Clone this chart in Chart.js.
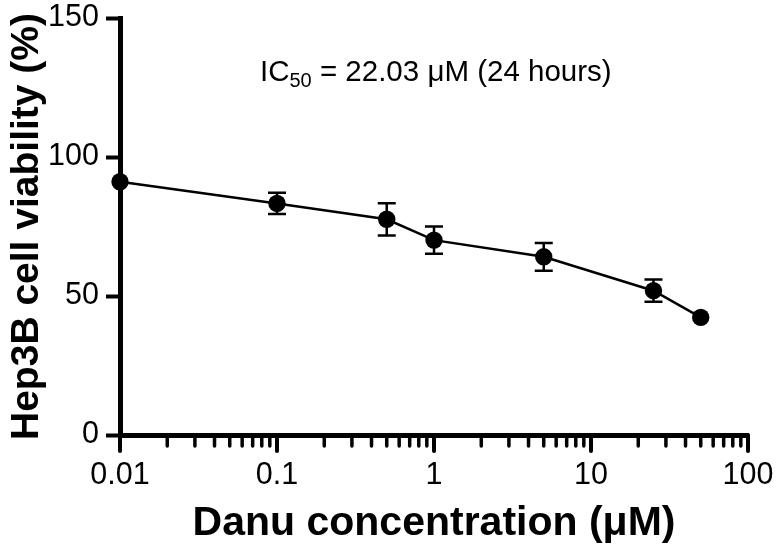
<!DOCTYPE html>
<html>
<head>
<meta charset="utf-8">
<script src="https://cdn.jsdelivr.net/npm/chart.js@4.4.1/dist/chart.umd.min.js"></script>
<style>
    html, body { margin: 0; padding: 0; background: #fff; }
    canvas { display: block; }
</style>
</head>
<body>
<canvas id="viability-chart" width="779" height="554"></canvas>
<script>
// --- DADOS ---
const concentrations = [0.01, 0.1, 0.5, 1, 5, 25, 50];      // µM
const viability = [91.1, 83.3, 77.6, 70.1, 64.1, 51.9, 42.3]; // %
const viabilityErr = [0, 3.8, 5.8, 4.9, 5.0, 4.0, 0];         // +/- %
const yTickValues = [0, 50, 100, 150];
const xMajorTicks = [0.01, 0.1, 1, 10, 100];
const annotationText = ['IC', '50', ' = 22.03 μM (24 hours)'];

const FONT = '"Liberation Sans", Arial, sans-serif';

// minor ticks 2..9 of each decade
const xTickValues = [];
xMajorTicks.forEach((d, i) => {
    xTickValues.push(d);
    if (i < xMajorTicks.length - 1) {
        for (let k = 2; k <= 9; k++) xTickValues.push(d * k);
    }
});

// barras de erro
const errorBars = {
    id: 'errorBars',
    afterDatasetsDraw(chart) {
        const { ctx, scales: { x, y } } = chart;
        ctx.save();
        ctx.strokeStyle = '#000';
        ctx.lineWidth = 2.5;
        concentrations.forEach((c, i) => {
            const err = viabilityErr[i];
            if (!err) return;
            const px = x.getPixelForValue(c);
            const top = y.getPixelForValue(viability[i] + err);
            const bot = y.getPixelForValue(viability[i] - err);
            ctx.beginPath();
            ctx.moveTo(px, top); ctx.lineTo(px, bot);
            ctx.moveTo(px - 9, top); ctx.lineTo(px + 9, top);
            ctx.moveTo(px - 9, bot); ctx.lineTo(px + 9, bot);
            ctx.stroke();
        });
        ctx.restore();
    }
};

// marcas do eixo x (maiores e menores)
const logTicks = {
    id: 'logTicks',
    afterDraw(chart) {
        const { ctx, scales: { x } } = chart;
        const base = chart.chartArea.bottom;
        ctx.save();
        ctx.strokeStyle = '#000';
        ctx.lineCap = 'round';
        x.ticks.forEach(t => {
            const major = xMajorTicks.includes(t.value);
            const px = x.getPixelForValue(t.value);
            ctx.lineWidth = major ? 4 : 3.5;
            ctx.beginPath();
            ctx.moveTo(px, base);
            ctx.lineTo(px, base + (major ? 16 : 11));
            ctx.stroke();
        });
        ctx.restore();
    }
};

// texto IC50
const icLabel = {
    id: 'icLabel',
    afterDraw(chart) {
        const { ctx, chartArea } = chart;
        let px = chartArea.left + 140;
        const baseY = chartArea.top + 63;
        ctx.save();
        ctx.fillStyle = '#000';
        ctx.textBaseline = 'alphabetic';
        ctx.textAlign = 'left';
        ctx.font = `29.5px ${FONT}`;
        ctx.fillText(annotationText[0], px, baseY);
        px += ctx.measureText(annotationText[0]).width;
        ctx.font = `20px ${FONT}`;
        ctx.fillText(annotationText[1], px, baseY + 6);
        px += ctx.measureText(annotationText[1]).width;
        ctx.font = `29.5px ${FONT}`;
        ctx.fillText(annotationText[2], px, baseY);
        ctx.restore();
    }
};

const ctx = document.getElementById('viability-chart').getContext('2d');
new Chart(ctx, {
    type: 'line',
    data: {
        datasets: [{
            label: 'Hep3B',
            data: concentrations.map((c, i) => ({ x: c, y: viability[i] })),
            borderColor: '#000',
            borderWidth: 2.5,
            backgroundColor: '#000',
            pointBackgroundColor: '#000',
            pointBorderWidth: 0,
            pointRadius: 8.7,
            tension: 0,
            clip: false
        }]
    },
    options: {
        responsive: false,
        devicePixelRatio: 1,
        animation: false,
        layout: { padding: { top: 18, right: 31, left: 0, bottom: 0 } },
        plugins: { legend: { display: false }, tooltip: { enabled: false } },
        scales: {
            x: {
                type: 'logarithmic',
                min: 0.01,
                max: 100,
                afterBuildTicks: s => { s.ticks = xTickValues.map(v => ({ value: v })); },
                afterFit: s => { s.height = 119; s.paddingLeft = 0; s.paddingRight = 0; },
                border: { display: true, width: 5, color: '#000' },
                grid: { drawOnChartArea: false, drawTicks: true, tickLength: 17, tickColor: 'rgba(0,0,0,0)' },
                ticks: {
                    autoSkip: false, maxRotation: 0, minRotation: 0, padding: 5,
                    color: '#000', font: { family: FONT, size: 30.5 },
                    callback: v => xMajorTicks.includes(v) ? String(v) : ''
                },
                title: {
                    display: true, text: 'Danu concentration (μM)', color: '#000',
                    font: { family: FONT, size: 41, weight: 'bold' },
                    padding: { top: 0, bottom: 6 }
                }
            },
            y: {
                min: 0,
                max: 150,
                afterBuildTicks: s => { s.ticks = yTickValues.map(v => ({ value: v })); },
                afterFit: s => { s.width = 120; s.paddingTop = 0; s.paddingBottom = 0; },
                border: { display: true, width: 5, color: '#000' },
                grid: { drawOnChartArea: false, drawTicks: true, tickLength: 14, tickWidth: 4, tickColor: '#000' },
                ticks: { color: '#000', font: { family: FONT, size: 30.5 }, padding: 7 },
                title: {
                    display: true, text: 'Hep3B cell viability (%)', color: '#000',
                    font: { family: FONT, size: 39, weight: 'bold' },
                    padding: { top: 4, bottom: 0 }
                }
            }
        }
    },
    plugins: [errorBars, logTicks, icLabel]
});
</script>
</body>
</html>
